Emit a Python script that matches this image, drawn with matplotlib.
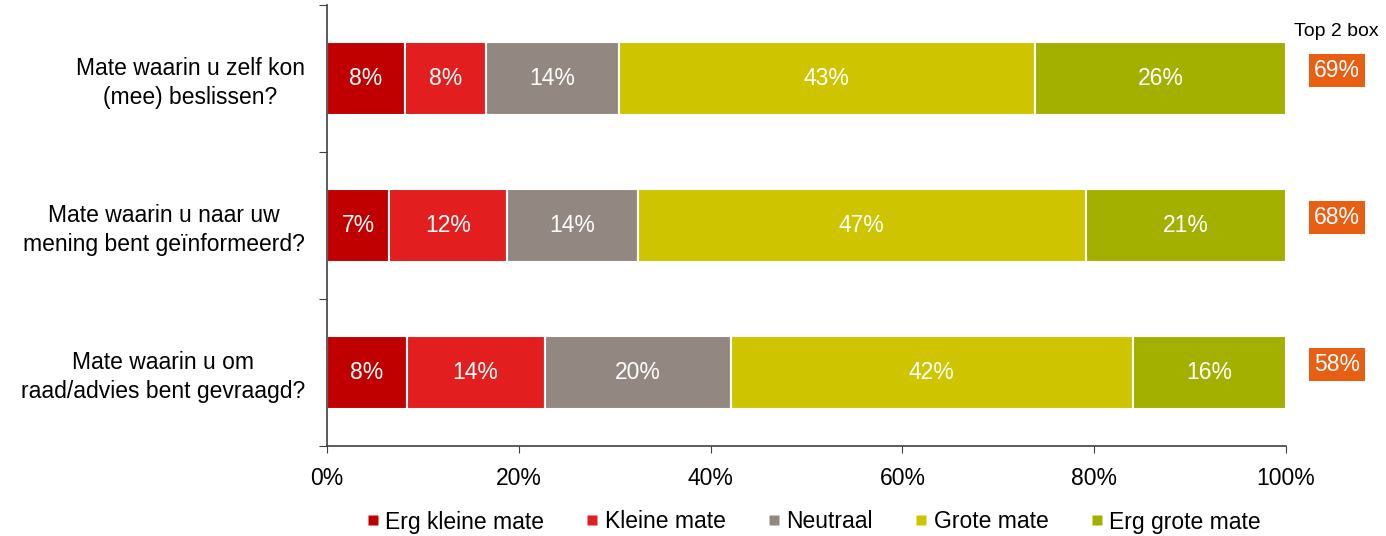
import matplotlib
matplotlib.use("Agg")
import matplotlib.pyplot as plt
from matplotlib.lines import Line2D
import numpy as np

plt.rcParams['font.family'] = ['Liberation Sans', 'DejaVu Sans']

categories = ["Mate waarin u zelf kon\n(mee) beslissen?",
              "Mate waarin u naar uw\nmening bent geïnformeerd?",
              "Mate waarin u om\nraad/advies bent gevraagd?"]
series_names = ["Erg kleine mate", "Kleine mate", "Neutraal", "Grote mate", "Erg grote mate"]
erg_kleine = [8.1, 6.5, 8.3]
kleine = [8.5, 12.3, 14.4]
neutraal = [13.8, 13.6, 19.4]
grote = [43.4, 46.7, 41.9]
erg_grote = [26.2, 20.9, 16.0]
top2 = [69, 68, 58]
value_labels = [[8, 8, 14, 43, 26], [7, 12, 14, 47, 21], [8, 14, 20, 42, 16]]
colors = ["#C00000", "#E31E1E", "#938781", "#CEC400", "#A3B000"]
xticks = [0, 20, 40, 60, 80, 100]

series = [erg_kleine, kleine, neutraal, grote, erg_grote]

fig = plt.figure(figsize=(13.86, 5.36), dpi=100)
ax = fig.add_axes([327/1386, 1-446/536, (1286-327)/1386, (446-5)/536])

y = np.arange(len(categories))
left = np.zeros(len(categories))
for si, (vals, col) in enumerate(zip(series, colors)):
    vals = np.array(vals)
    ax.barh(y, vals, left=left, height=0.49, color=col, edgecolor='white', linewidth=1.5, label=series_names[si])
    for i in range(len(categories)):
        ax.text(left[i] + vals[i]/2, y[i], f"{value_labels[i][si]}%", ha='center', va='center',
                color='white', fontsize=16.5)
    left += vals

ax.set_xlim(0, 100)
ax.set_ylim(2.5, -0.5)
ax.set_xticks(xticks)
ax.set_xticklabels([f"{t}%" for t in xticks], fontsize=16.5)
ax.set_yticks([-0.5, 0.5, 1.5, 2.5])
ax.set_yticklabels([])
ax.tick_params(axis='x', direction='out', length=5, color='#404040', pad=10)
ax.tick_params(axis='y', direction='out', length=6, color='#404040')
for s in ['top', 'right']:
    ax.spines[s].set_visible(False)
for s in ['left', 'bottom']:
    ax.spines[s].set_color('#404040')
    ax.spines[s].set_linewidth(1.2)

for i, cat in enumerate(categories):
    ax.text(-2.3, y[i] + 0.03, cat, ha='right', va='center', multialignment='center', fontsize=16.5,
            transform=ax.transData, color='black', linespacing=1.35)

# Top 2 box
ax.text(1336/1386, 1-31/536, "Top 2 box", transform=fig.transFigure, ha='center', va='center', fontsize=14)
for i in range(len(categories)):
    ax.text(105.3, y[i] - 0.055, f"{top2[i]}%", ha='center', va='center', color='white', fontsize=16.5,
            bbox=dict(boxstyle='square,pad=0.22', facecolor='#E85F13', edgecolor='none'), clip_on=False)

handles = [Line2D([0], [0], marker='s', linestyle='none', markersize=7, markerfacecolor=c,
                  markeredgecolor='none') for c in colors]
fig.legend(handles, series_names, loc='center', bbox_to_anchor=(811/1386, 1-522/536), ncol=5,
           frameon=False, fontsize=16.5, handletextpad=0.05, columnspacing=1.6, handlelength=1.0)

fig.savefig("out.png", dpi=100)
